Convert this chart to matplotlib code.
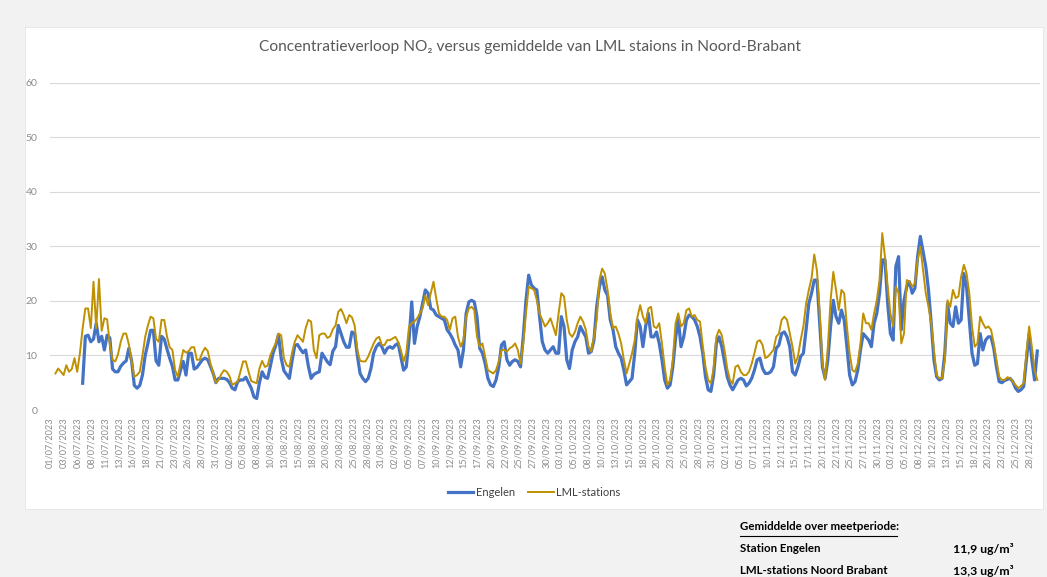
import numpy as np
import pandas as pd
import matplotlib
matplotlib.use("Agg")
import matplotlib.pyplot as plt
from matplotlib.patches import Rectangle
from matplotlib.lines import Line2D

nan = np.nan
start = "2023-07-01 00:00"
step = "12h"

title = "Concentratieverloop NO\u2082 versus gemiddelde van LML staions in Noord-Brabant"
series_names = ["Engelen", "LML-stations"]
summary_header = "Gemiddelde over meetperiode:"
summary_labels = ["Station Engelen", "LML-stations Noord Brabant"]
summary_values = ["11,9 ug/m\u00b3", "13,3 ug/m\u00b3"]

# category-axis labels as printed on the chart (day/month, 2023)
tick_days = {
    "07": ["01", "03", "06", "08", "11", "13", "16", "18", "21", "23", "26", "28", "31"],
    "08": ["02", "05", "08", "10", "13", "15", "18", "20", "23", "25", "28", "31"],
    "09": ["02", "05", "07", "10", "12", "15", "17", "20", "22", "25", "27", "30"],
    "10": ["03", "05", "08", "10", "13", "15", "18", "20", "23", "25", "28", "31"],
    "11": ["02", "05", "07", "10", "12", "15", "17", "20", "22", "25", "27", "30"],
    "12": ["03", "05", "08", "10", "13", "15", "18", "20", "23", "25", "28"],
}
tick_labels = [f"{d}/{m}/2023" for m, days in tick_days.items() for d in days]

engelen = [
    nan, nan, nan, nan, nan, nan, nan, nan, nan, nan, nan, nan,
    4.9, 13.5, 13.7, 12.5, 13, 15.9, 12.5, 13.5, 11, 13.7,
    13.2, 7.5, 7.0, 7.0, 8.0, 8.6, 9.0, 11.3, 9, 4.5,
    4.0, 4.5, 6.4, 10, 12.2, 14.6, 14.6, 9, 8.2, 13.5,
    13, 11.2, 9.5, 8, 5.5, 5.5, 7.3, 8.9, 6.4, 10.4,
    10.4, 7.5, 7.8, 8.5, 9.2, 9.5, 9.2, 8, 6.7, 5,
    5.8, 5.8, 5.8, 5.6, 5, 4, 3.7, 5.2, 5.5, 5.5,
    6, 5, 4, 2.4, 2.1, 5, 7, 6, 5.8, 8,
    10.4, 11.8, 13.8, 9.5, 7.2, 6.5, 5.8, 9, 11.8, 12,
    11.2, 10.5, 11, 8, 5.8, 6.5, 6.8, 7, 10.4, 9.6,
    8.8, 8.3, 10.8, 11.6, 15.5, 14, 12.5, 11.5, 11.5, 14.3,
    14.0, 10, 6.7,
    5.8, 5.2, 5.8, 7.6, 10.4, 11.6, 12.2, 11.6, 10.4, 11.3,
    11.6, 11.3, 11.9, 12.2, 9.8, 7.3, 7.9, 12.8, 19.8, 12.2,
    15.3, 17.1, 19.5, 22, 21.4, 18.6, 18.3, 17.4, 17.1, 16.8,
    16.5, 14.7, 14, 13.1, 11.9, 11, 7.9, 11, 17.7, 19.8,
    20.1, 19.8, 17.1, 11.3, 10.4, 8.5, 5.8, 4.6, 4.3, 5.5,
    7.9, 11.9, 12.5, 9.2, 8.2, 8.9, 9.2, 8.9, 7.9, 13.4,
    20.1, 24.7, 22.9, 22.3, 22, 17.1, 12.5, 11, 10.4, 11,
    11.6, 10.4, 10.4, 17.1, 15.3, 9.2, 7.6, 11, 12.5, 13.4,
    15.3, 14.3, 13.4, 10.4, 10.7, 12.8, 18.9, 22.6, 24.4, 22,
    21, 16.5, 14.7, 11.6, 10.4, 9.5, 7.3, 4.6, 5.2, 5.8,
    10.4, 16.5, 15.3, 11.6, 15.3, 17.7, 13.4, 13.4, 14.3, 12.2,
    9.2, 5.5, 4.0, 4.6, 7.9, 13.1, 16.8, 11.6, 13.4, 16.5,
    17.4, 17.1, 16.5, 15.3, 13.4,
    10.4, 6.1, 3.7, 3.4, 6.4, 12.2, 13.4, 11.6, 8.9, 6.1,
    4.6, 3.7, 4.6, 5.5, 5.8, 5.5, 4.4, 4.9, 5.8, 7.3,
    9.2, 9.5, 7.6, 6.7, 6.7, 7, 7.9, 11.3, 11.9, 14,
    14.3, 13.4, 11.6, 7, 6.4, 7.9, 9.8, 10.4, 14.7, 19.5,
    21.4, 23.8, 23.8, 15.9, 7.9, 5.8, 9.2, 15.3, 20.1, 17.1,
    15.9, 18.3, 16.5, 11.6, 6.4, 4.6, 5.2, 7.3, 11, 14,
    13.4, 12.8, 11.6, 15.9, 17.7, 21.4, 27.5, 27.5, 19.5, 14,
    12.8, 26.3, 28.1, 14.7, 20.1, 22.6, 23.5, 21.4, 22.3, 28.1,
    31.8, 29, 26.3, 22, 15.9, 9.2, 6.1, 5.5, 5.8, 10.4,
    19.5, 15.9, 15.3, 18.9, 15.9, 16.5, 25, 22.6, 16.5, 10.4,
    8.2, 8.5, 14, 11, 12.8, 13.4, 13.4, 11.3, 7.9, 5.2,
    5, 5.4, 5.6, 5.8, 5.2, 4, 3.4, 3.7, 4.3, 9.2,
    14, 9.2, 5.5, 10.8,
]

lml = [
    nan, nan,
    6.7, 7.6, 7.0, 6.4, 8.2, 7.0, 7.5, 9.5, 7.0, 10.4,
    15, 18.6, 18.6, 15, 23.5, 15, 24, 14.5, 16.8, 16.6,
    12, 9.2, 8.9, 10.2, 12.5, 14, 14, 12, 9, 6.1,
    6.4, 7.0, 10, 13.4, 15.5, 17.1, 16.8, 13, 12.5, 16.5,
    16.5, 13.5, 11.5, 11, 7.3, 6.1, 8.5, 11, 10.5, 10.8,
    11.5, 11.5, 9.2, 9.2, 10.5, 11.4, 10.8, 8.5, 6.7, 5,
    5.5, 6.6, 7.3, 7, 6.2, 4.6, 4.9, 5.2, 7.0, 8.9,
    8.9, 7, 5.3, 5.1, 4.9, 7.6, 9.0, 7.9, 8.1, 10,
    11.2, 12.2, 14, 13.7, 9.5, 8.2, 7.9, 10.5, 12.5, 13.7,
    13.1, 12.5, 15, 16.5, 16.2, 11, 9.5, 13.7, 14, 14,
    13.2, 13.5, 14.8, 15.5, 18, 18.5, 17.4, 15.9, 17.4, 17,
    15.5, 11, 9,
    8.9, 8.9, 9.8, 11, 12.2, 13.1, 13.4, 11.9, 11.9, 12.8,
    12.8, 13.1, 13.4, 12.5, 11, 8.9, 10.4, 15.3, 15.9, 16.2,
    16.8, 17.7, 18.6, 21, 19.2, 21.4, 23.5, 20.5, 17.7, 17.1,
    17.1, 16.5, 14.7, 16.8, 17.1, 13.4, 11.6, 12.8, 17.1, 18.6,
    18.9, 18.3, 13.4, 11.6, 12.2, 9.8, 7.3, 7.0, 6.7, 7.3,
    8.9, 11, 11, 10.7, 11.3, 11.6, 12.2, 11, 8.5, 12.2,
    17.7, 22.6, 22.3, 22, 20.1, 17.7, 16.5, 15.3, 15.9, 16.8,
    15.3, 13.7, 17.7, 21.4, 20.8, 16.5, 14, 13.4, 14.3, 15.9,
    17.1, 16.2, 14.7, 11.6, 10.7, 13.4, 16.5, 23.8, 25.9, 25,
    22, 17.7, 15, 15.3, 14, 12.2, 9.2, 6.7, 8.5, 10.4,
    12.8, 17.1, 19.2, 17.1, 15.9, 18.6, 18.9, 15.3, 15, 15.9,
    12.2, 7.9, 4.6, 5.5, 9.2, 15.9, 17.7, 15.3, 15.9, 18.3,
    18.6, 17.1, 17.4, 16.5, 16.2,
    11.8, 7.9, 5.5, 4.9, 7.6, 13.4, 14.7, 13.7, 11, 7.6,
    5.5, 4.8, 7.9, 8.2, 7, 6.4, 6.4, 7, 8.5, 10.4,
    12.5, 12.8, 11.9, 9.5, 9.8, 10.4, 11, 13.4, 14, 16.5,
    17.1, 16.5, 14, 11.6, 8.5, 9.8, 12.8, 15.3, 19.5, 22,
    24.1, 28.5, 25.5, 17.7, 8.5, 5.5, 11.6, 20.1, 25.3, 22,
    18.3, 22, 21.4, 15.3, 10.4, 7.3, 7, 8.5, 12.2, 17.7,
    15.9, 15.9, 14.7, 17.7, 20.1, 23.8, 32.4, 28, 22.6, 17.7,
    15.3, 22.6, 21.4, 12.2, 14, 23.8, 23.5, 22.6, 23.2, 27.5,
    29.9, 25.6, 21.4, 18.9, 15.9, 11, 6.4, 5.8, 5.8, 9.2,
    20.1, 18.9, 22, 20.5, 20.8, 24.4, 26.6, 25, 21.4, 15.3,
    11.6, 12.2, 17.1, 15.9, 15, 15.3, 14.7, 12.2, 9.2, 6.1,
    5.5, 5.5, 6, 5.8, 5.2, 4.6, 4.0, 4.4, 4.9, 10.4,
    15.3, 11.6, 7.3, 5.5,
]

y_ticks = [0, 10, 20, 30, 40, 50, 60]
x_end = "2023-12-30"
label_span_days = 180  # first to last printed label

FONT = ["Lato", "DejaVu Sans"]
plt.rcParams["font.family"] = FONT

W, H = 1047, 577
fig = plt.figure(figsize=(W / 100, H / 100), dpi=100, facecolor="#f2f2f2")

# white chart area (behind the axes)
bg = Rectangle((25 / W, 1 - 509 / H), (1043 - 25) / W, (509 - 27) / H,
               transform=fig.transFigure, facecolor="white",
               edgecolor="#e6e6e6", lw=0.6, zorder=-10)
fig.patches.append(bg)

ax = fig.add_axes([50 / W, 1 - 410 / H, 990 / W, (410 - 82.5) / H])
ax.set_facecolor("none")
ax.set_zorder(5)

t0 = pd.Timestamp(start)
t_eng = pd.date_range(start, periods=len(engelen), freq=step)
t_lml = pd.date_range(start, periods=len(lml), freq=step)

ax.plot(t_eng, engelen, color="#4472C4", lw=2.3, solid_joinstyle="round", zorder=3)
ax.plot(t_lml, lml, color="#BF9000", lw=1.4, solid_joinstyle="round", zorder=4)

ax.set_ylim(0, 60)
ax.set_yticks(y_ticks)
ax.set_xlim(t0, pd.Timestamp(x_end))
n_lab = len(tick_labels)
tick_pos = t0 + pd.to_timedelta(np.arange(n_lab) * label_span_days / (n_lab - 1), unit="D")
ax.set_xticks(tick_pos)
ax.set_xticklabels(tick_labels, rotation=90, fontsize=6.6, color="#8c8c8c")
ax.tick_params(axis="y", length=0, pad=9, labelsize=7.5, labelcolor="#8c8c8c")
ax.tick_params(axis="x", length=0, pad=5)
ax.grid(axis="y", color="#d9d9d9", lw=0.8)
ax.grid(axis="x", visible=False)
for s in ax.spines.values():
    s.set_visible(False)
ax.set_axisbelow(True)

fig.text(530 / W, 1 - 47 / H, title, ha="center", va="center",
         fontsize=11.2, color="#595959")

leg_h = [Line2D([], [], color="#4472C4", lw=2.3), Line2D([], [], color="#BF9000", lw=1.4)]
fig.legend(leg_h, series_names, loc="center", bbox_to_anchor=(534 / W, 1 - 492 / H),
           ncol=2, frameon=False, fontsize=8, handlelength=2.3, handletextpad=0.2,
           columnspacing=1.2, labelcolor="#404040")

tx = 740 / W
vx = 953 / W
fs = 8.3
fig.text(tx, 1 - 527 / H, summary_header, ha="left", va="center", fontsize=fs,
         fontweight="bold", color="black")
fig.add_artist(Line2D([tx, 897 / W], [1 - 535.5 / H, 1 - 535.5 / H], color="black",
                      lw=0.8, transform=fig.transFigure))
for i, (lab, val) in enumerate(zip(summary_labels, summary_values)):
    yy = 1 - (549 + 22 * i) / H
    fig.text(tx, yy, lab, ha="left", va="center", fontsize=fs, fontweight="bold", color="black")
    fig.text(vx, yy, val, ha="left", va="center", fontsize=8.8, fontweight="bold", color="black")

fig.savefig("out.png", dpi=100, facecolor=fig.get_facecolor())
